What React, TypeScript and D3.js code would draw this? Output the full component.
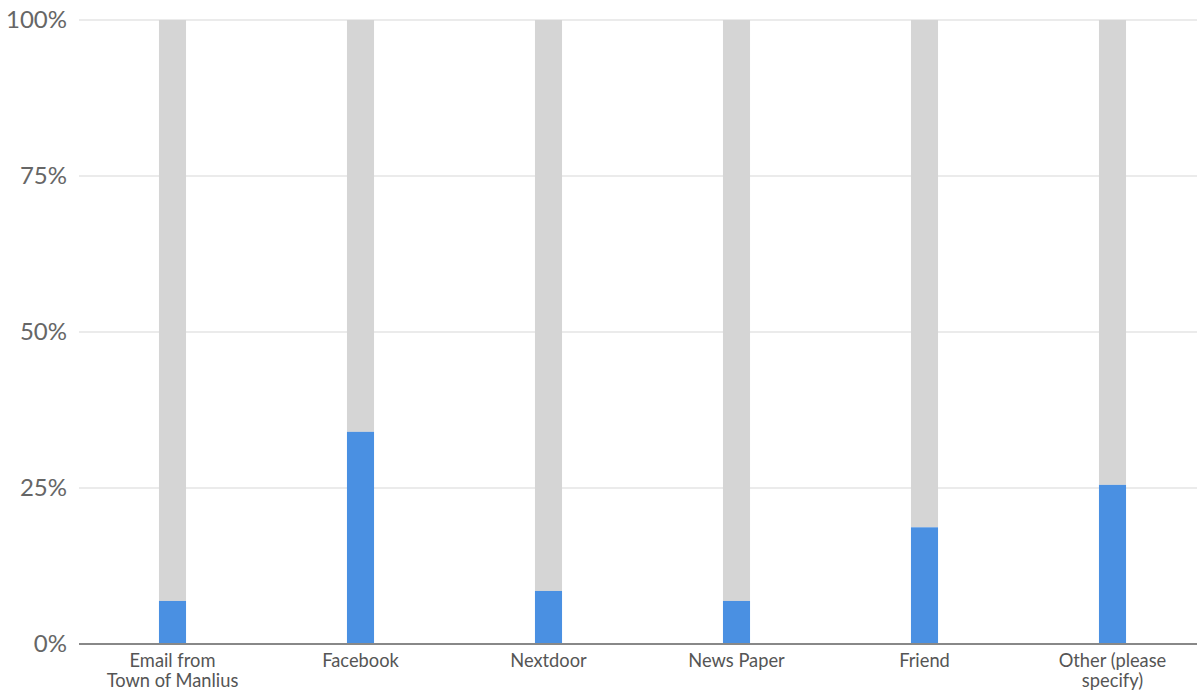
import React from "react";
import * as d3 from "d3";

const categories: string[][] = [
  ["Email from", "Town of Manlius"],
  ["Facebook"],
  ["Nextdoor"],
  ["News Paper"],
  ["Friend"],
  ["Other (please", "specify)"],
];
const values: number[] = [0.069, 0.34, 0.085, 0.069, 0.187, 0.255];
const yTicks: number[] = [0, 0.25, 0.5, 0.75, 1];

const W = 1197;
const H = 694;

export default function App() {
  const keys = categories.map((c) => c.join(" "));
  const x = d3.scaleBand<string>().domain(keys).range([78.5, 1206.5]).paddingInner(0.856).paddingOuter(0.428);
  const y = d3.scaleLinear().domain([0, 1]).range([644, 20]);
  const fmt = d3.format(".0%");
  return (
    <svg width={W} height={H} style={{ position: "absolute", left: 0, top: 0, fontFamily: "Lato, sans-serif" }}>
      {yTicks.map((t) => (
        <g key={t}>
          {t > 0 && <line x1={79} x2={W} y1={y(t)} y2={y(t)} stroke="#ebebeb" strokeWidth={2} />}
          <text x={67} y={y(t)} dy="0.35em" textAnchor="end" fontSize={24} fill="#666">
            {fmt(t)}
          </text>
        </g>
      ))}
      {keys.map((k, i) => (
        <g key={k}>
          <rect x={x(k)} y={y(1)} width={x.bandwidth()} height={y(values[i]) - y(1)} fill="#d5d5d5" />
          <rect x={x(k)} y={y(values[i])} width={x.bandwidth()} height={y(0) - y(values[i])} fill="#4a90e2" />
          <text textAnchor="middle" fontSize={18.3} fill="#555">
            {categories[i].map((line, j) => (
              <tspan key={j} x={(x(k) as number) + x.bandwidth() / 2} y={667 + j * 20}>
                {line}
              </tspan>
            ))}
          </text>
        </g>
      ))}
      <line x1={79} x2={W} y1={y(0)} y2={y(0)} stroke="#888" strokeWidth={2} />
    </svg>
  );
}
